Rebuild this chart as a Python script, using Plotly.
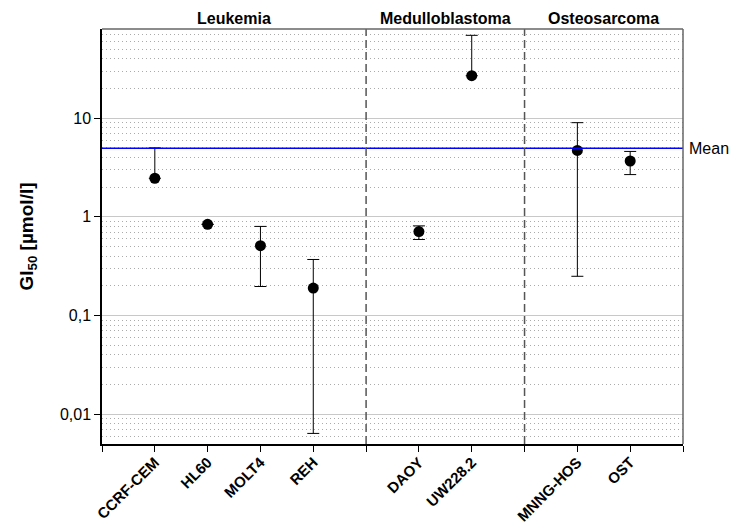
import math
import plotly.graph_objects as go

# ---- data ----
groups = ["Leukemia", "Medulloblastoma", "Osteosarcoma"]
group_members = [
    ["CCRF-CEM", "HL60", "MOLT4", "REH"],
    ["DAOY", "UW228.2"],
    ["MNNG-HOS", "OST"],
]
gi50 = [2.46, 0.84, 0.51, 0.19, 0.71, 26.9, 4.71, 3.68]
gi50_upper = [5.0, 0.84, 0.80, 0.37, 0.81, 69.0, 9.0, 4.6]
gi50_lower = [2.46, 0.84, 0.197, 0.0064, 0.59, 26.9, 0.25, 2.68]
mean_gi50 = 4.95
y_tick_vals = [0.01, 0.1, 1, 10]
y_tick_text = ["0,01", "0,1", "1", "10"]

# ---- categorical slots (one gap slot between groups) ----
cell_lines, xpos, boundaries, centers = [], [], [], []
pos = 0
for gi, members in enumerate(group_members):
    start = pos
    for m in members:
        pos += 1
        cell_lines.append(m)
        xpos.append(pos)
    pos += 1
    centers.append((start + pos) / 2)
    if gi < len(group_members) - 1:
        boundaries.append(pos)
x_end = pos

tickvals = list(range(0, x_end + 1))
ticktext = [""] * len(tickvals)
for name, p in zip(cell_lines, xpos):
    ticktext[p] = name

err_plus = [u - v for u, v in zip(gi50_upper, gi50)]
err_minus = [v - l for v, l in zip(gi50, gi50_lower)]

FONT = "Arial, Liberation Sans, sans-serif"

fig = go.Figure()
fig.add_trace(go.Scatter(
    x=xpos, y=gi50, mode="markers",
    marker=dict(color="black", size=11),
    error_y=dict(type="data", symmetric=False, array=err_plus,
                 arrayminus=err_minus, color="black", thickness=1, width=6),
    showlegend=False, hoverinfo="x+y",
))

# mean line
fig.add_shape(type="line", xref="x", yref="y", x0=0, x1=x_end,
              y0=mean_gi50, y1=mean_gi50, line=dict(color="#0000ff", width=1.5))
fig.add_annotation(xref="paper", yref="y", x=1, y=math.log10(mean_gi50),
                   text="Mean", showarrow=False, xanchor="left", xshift=4,
                   font=dict(family=FONT, size=16, color="black"))

# group separators
for b in boundaries:
    fig.add_shape(type="line", xref="x", yref="paper", x0=b, x1=b, y0=0, y1=1,
                  line=dict(color="#555555", width=1.5, dash="8px,4px"))

# top & right frame
fig.add_shape(type="line", xref="paper", yref="paper", x0=0, x1=1, y0=1, y1=1,
              line=dict(color="#666666", width=1.5))
fig.add_shape(type="line", xref="paper", yref="paper", x0=1, x1=1, y0=0, y1=1,
              line=dict(color="#666666", width=1.5))

# group labels
for g, c in zip(groups, centers):
    fig.add_annotation(xref="x", yref="paper", x=c, y=1, yanchor="bottom", yshift=0,
                       text=f"<b>{g}</b>", showarrow=False,
                       font=dict(family=FONT, size=16, color="black"))

fig.update_xaxes(
    range=[0, x_end], tickvals=tickvals, ticktext=ticktext, tickangle=-45,
    showgrid=False, zeroline=False, showline=True, linecolor="black", linewidth=1.5,
    ticks="outside", ticklen=6, tickcolor="black", tickwidth=1,
    tickfont=dict(family=FONT, size=15, color="black", weight="bold"),
    ticklabelstandoff=-4,
    automargin=False,
)
fig.update_yaxes(
    type="log", range=[-2.301, 1.903],
    tickvals=y_tick_vals, ticktext=y_tick_text,
    showgrid=True, gridcolor="#c8c8c8", gridwidth=1,
    minor=dict(dtick="D1", showgrid=True, gridcolor="#ababab", griddash="1px,3px",
               gridwidth=1, ticks=""),
    zeroline=False, showline=True, linecolor="black", linewidth=1.5,
    ticks="outside", ticklen=6, tickcolor="black",
    tickfont=dict(family=FONT, size=16, color="black"),
    title=dict(text="<b>GI<sub>50</sub> [µmol/l]</b>", standoff=21,
               font=dict(family=FONT, size=19, color="black")),
    automargin=False,
)
fig.update_layout(
    width=731, height=527,
    margin=dict(l=102, r=48, t=29, b=83),
    plot_bgcolor="white", paper_bgcolor="white",
    font=dict(family=FONT),
)
fig.write_html("out.html", config={"displayModeBar": False},
               post_script="document.body.style.margin='0';")
